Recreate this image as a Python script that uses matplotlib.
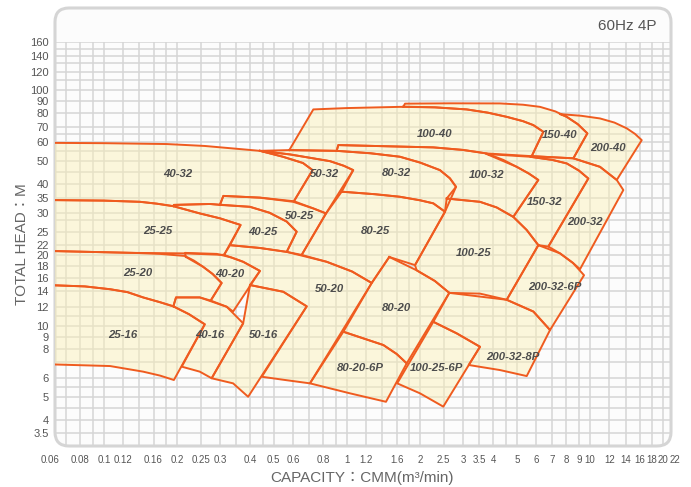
import matplotlib.pyplot as plt
from matplotlib.patches import FancyBboxPatch
from matplotlib.ticker import NullLocator
from matplotlib.transforms import IdentityTransform, ScaledTranslation

# Capacity (m3/min) and head (m) outlines:
# top curve left->right, then bottom curve right->left.
q_25_16 = [0.058, 0.0835, 0.106, 0.125, 0.145, 0.17, 0.193, 0.224, 0.260, 0.194, 0.17, 0.145, 0.106, 0.058]
h_25_16 = [14.9, 14.7, 14.3, 13.9, 13.2, 12.6, 12.1, 11.2, 10.15, 5.89, 6.15, 6.39, 6.75, 6.87]
q_40_16 = [0.193, 0.198, 0.248, 0.320, 0.374, 0.2775, 0.248, 0.209, 0.260, 0.224]
h_40_16 = [12.1, 13.2, 13.2, 12.05, 10.25, 5.99, 6.39, 6.71, 10.15, 11.2]
q_50_16 = [0.399, 0.547, 0.683, 0.392, 0.340, 0.2775, 0.374]
h_50_16 = [14.9, 13.95, 12.1, 5.00, 5.70, 5.99, 10.25]
q_25_20 = [0.058, 0.132, 0.17, 0.215, 0.235, 0.256, 0.28, 0.305, 0.275, 0.248, 0.198, 0.193,
           0.17, 0.145, 0.125, 0.106, 0.0835, 0.058]
h_25_20 = [20.8, 20.4, 20.2, 19.8, 18.9, 17.8, 16.6, 15.2, 12.8, 13.2, 13.2, 12.1,
           12.6, 13.2, 13.9, 14.3, 14.7, 14.9]
q_40_20 = [0.2175, 0.2154, 0.291, 0.335, 0.374, 0.4385, 0.340, 0.320, 0.275, 0.305, 0.28, 0.256]
h_40_20 = [19.6, 20.4, 20.2, 19.5, 18.7, 17.1, 11.5, 12.05, 12.8, 15.2, 16.6, 17.8]
q_50_20 = [0.312, 0.330, 0.4385, 0.565, 0.825, 1.05, 1.264, 0.704, 0.556, 0.446, 0.683, 0.547,
           0.399, 0.4385, 0.374]
h_50_20 = [20.0, 22.0, 21.4, 20.6, 18.7, 17.0, 15.2, 5.70, 5.89, 6.08, 12.1, 13.95,
           14.9, 17.1, 18.7]
q_25_25 = [0.058, 0.1, 0.141, 0.165, 0.193, 0.248, 0.3, 0.365, 0.312, 0.215, 0.132, 0.058]
h_25_25 = [34.2, 34.0, 33.6, 33.0, 32.2, 30.0, 28.6, 26.8, 20.0, 20.3, 20.4, 20.8]
q_40_25 = [0.193, 0.194, 0.273, 0.399, 0.48, 0.565, 0.621, 0.565, 0.4385, 0.330, 0.365, 0.3, 0.248]
h_40_25 = [32.2, 32.6, 32.9, 32.0, 30.2, 27.7, 25.1, 20.6, 21.4, 22.0, 26.8, 28.6, 30.0]
q_50_25 = [0.300, 0.310, 0.4385, 0.601, 0.727, 0.820, 0.651, 0.565, 0.621, 0.565, 0.48, 0.399]
h_50_25 = [32.6, 35.6, 35.0, 33.6, 31.5, 30.0, 20.0, 20.6, 25.1, 27.7, 30.2, 32.0]
q_40_32 = [0.058, 0.1, 0.181, 0.26, 0.340, 0.4385, 0.545, 0.659, 0.722, 0.605, 0.4385, 0.310,
           0.300, 0.273, 0.194, 0.193, 0.165, 0.141, 0.1, 0.058]
h_40_32 = [59.8, 59.6, 59.1, 58.0, 56.6, 55.3, 52.2, 49.1, 45.8, 33.8, 35.0, 35.6,
           32.6, 32.9, 32.6, 32.2, 33.0, 33.6, 34.0, 34.2]
q_50_32 = [0.4385, 0.5825, 0.851, 0.97, 1.061, 0.820, 0.727, 0.605, 0.722, 0.659, 0.545]
h_50_32 = [55.3, 53.4, 50.0, 47.8, 45.8, 30.0, 31.5, 33.8, 45.8, 49.1, 52.2]
q_80_32 = [0.4385, 0.579, 0.907, 1.25, 1.652, 2.0, 2.413, 2.65, 2.81, 2.531, 2.266, 2.0, 1.652,
           1.3, 0.951, 1.061, 0.97, 0.851, 0.5825]
h_80_32 = [55.3, 55.7, 55.3, 54.0, 52.2, 49.3, 45.8, 42.3, 38.9, 30.5, 33.1, 34.1, 35.3,
           36.2, 37.1, 45.8, 47.8, 50.0, 53.4]
q_80_25 = [0.951, 1.3, 1.652, 2.0, 2.266, 2.531, 1.905, 1.493, 1.264, 1.05, 0.825, 0.651, 0.820]
h_80_25 = [37.1, 36.2, 35.3, 34.1, 33.1, 30.5, 18.1, 19.6, 15.2, 17.0, 18.7, 20.0, 30.0]
q_80_20 = [1.493, 1.936, 2.3, 2.636, 1.761, 1.6, 1.411, 0.966, 1.264]
h_80_20 = [19.6, 17.2, 15.5, 13.8, 6.93, 7.6, 8.29, 9.44, 15.2]
q_80_20_6p = [0.966, 1.411, 1.6, 1.761, 1.447, 1.029, 0.704]
h_80_20_6p = [9.44, 8.29, 7.6, 6.93, 4.76, 5.17, 5.70]
q_100_40 = [0.579, 0.727, 1.0, 1.652, 2.3, 3.109, 3.8, 4.541, 5.3, 5.845, 6.426, 5.756, 3.757,
            3.0, 2.266, 0.921, 0.907]
h_100_40 = [55.7, 82.9, 84.0, 85.0, 84.6, 82.9, 80.3, 77.1, 73.9, 71.1, 66.6, 52.5, 53.9,
            55.8, 57.2, 58.5, 55.3]
q_100_32 = [0.907, 0.921, 2.266, 3.0, 3.757, 4.4, 4.993, 5.6, 6.128, 4.834, 4.13, 3.526, 2.572,
            2.81, 2.65, 2.413, 2.0, 1.652, 1.25]
h_100_32 = [55.3, 58.5, 57.2, 55.8, 53.9, 50.6, 47.3, 44.3, 41.6, 29.0, 31.8, 33.6, 34.7,
            38.9, 42.3, 45.8, 49.3, 52.2, 54.0]
q_100_25 = [2.572, 3.526, 4.13, 4.834, 5.49, 6.128, 4.541, 3.526, 2.636, 2.3, 1.936, 1.905, 2.531]
h_100_25 = [34.7, 33.6, 31.8, 29.0, 25.5, 22.0, 12.9, 13.7, 13.8, 15.5, 17.2, 18.1, 30.5]
q_100_25_6p = [2.266, 2.828, 3.526, 2.49, 1.997, 1.609]
h_100_25_6p = [10.4, 9.29, 8.15, 4.54, 5.17, 5.70]
q_150_40 = [1.705, 1.733, 2.654, 4.263, 5.3, 6.228, 7.2, 8.019, 8.9, 9.748, 8.538, 5.756,
            6.426, 5.845, 5.3, 4.541, 3.8, 3.109, 2.3]
h_150_40 = [85.2, 87.7, 88.0, 87.9, 86.8, 85.0, 81.3, 77.1, 71.8, 65.6, 51.4, 52.5,
            66.6, 71.1, 73.9, 77.1, 80.3, 82.9, 84.6]
q_150_32 = [3.757, 5.664, 7.0, 8.019, 9.0, 9.84, 6.737, 6.128, 5.49, 4.834, 6.128, 5.6, 4.993]
h_150_32 = [53.6, 52.2, 50.6, 48.9, 45.6, 42.2, 21.7, 22.0, 25.5, 29.0, 41.6, 44.3, 47.3]
q_200_40 = [7.526, 9.2, 10.99, 12.6, 14.16, 15.3, 16.32, 12.88, 10.99, 8.538, 9.748, 8.9, 8.019]
h_200_40 = [79.2, 77.9, 75.9, 72.9, 68.9, 65.3, 61.4, 41.6, 47.3, 51.4, 65.6, 71.8, 77.1]
q_200_32 = [5.756, 8.538, 10.99, 12.88, 13.71, 9.096, 8.5, 7.526, 6.737, 9.84, 9.0, 8.019, 7.0, 5.664]
h_200_32 = [52.5, 51.4, 47.3, 41.6, 37.7, 17.4, 18.5, 20.3, 21.7, 42.2, 45.6, 48.9, 50.6, 52.2]
q_200_32_6p = [6.128, 7.526, 8.5, 9.447, 6.846, 5.845, 4.541]
h_200_32_6p = [22.0, 20.3, 18.5, 16.4, 9.6, 11.5, 12.9]
q_200_32_8p = [2.636, 4.541, 5.845, 6.846, 5.489, 4.263, 3.168, 3.526, 2.828, 2.266]
h_200_32_8p = [13.8, 12.9, 11.5, 9.6, 6.12, 6.49, 6.82, 8.15, 9.29, 10.4]

models = [
    ("25-16", q_25_16, h_25_16, 0.120, 9.14),
    ("40-16", q_40_16, h_40_16, 0.273, 9.14),
    ("50-16", q_50_16, h_50_16, 0.452, 9.14),
    ("25-20", q_25_20, h_25_20, 0.138, 16.7),
    ("40-20", q_40_20, h_40_20, 0.330, 16.6),
    ("50-20", q_50_20, h_50_20, 0.851, 14.4),
    ("25-25", q_25_25, h_25_25, 0.167, 25.3),
    ("40-25", q_40_25, h_40_25, 0.452, 25.1),
    ("50-25", q_50_25, h_50_25, 0.640, 29.3),
    ("40-32", q_40_32, h_40_32, 0.202, 43.9),
    ("50-32", q_50_32, h_50_32, 0.812, 43.9),
    ("80-32", q_80_32, h_80_32, 1.602, 44.4),
    ("80-25", q_80_25, h_80_25, 1.304, 25.2),
    ("80-20", q_80_20, h_80_20, 1.602, 11.9),
    ("80-20-6P", q_80_20_6p, h_80_20_6p, 1.131, 6.60),
    ("100-40", q_100_40, h_100_40, 2.302, 64.9),
    ("100-32", q_100_32, h_100_32, 3.757, 43.6),
    ("100-25", q_100_25, h_100_25, 3.310, 20.3),
    ("100-25-6P", q_100_25_6p, h_100_25_6p, 2.339, 6.60),
    ("150-40", q_150_40, h_150_40, 7.526, 64.5),
    ("150-32", q_150_32, h_150_32, 6.530, 33.6),
    ("200-40", q_200_40, h_200_40, 11.89, 56.6),
    ("200-32", q_200_32, h_200_32, 9.537, 27.7),
    ("200-32-6P", q_200_32_6p, h_200_32_6p, 7.178, 14.6),
    ("200-32-8P", q_200_32_8p, h_200_32_8p, 4.834, 7.40),
]

x_ticks = [0.06, 0.08, 0.1, 0.12, 0.16, 0.2, 0.25, 0.3, 0.4, 0.5, 0.6, 0.8, 1, 1.2, 1.6,
           2, 2.5, 3, 3.5, 4, 5, 6, 7, 8, 9, 10, 12, 14, 16, 18, 20, 22]
x_tick_labels = ["0.06", "0.08", "0.1", "0.12", "0.16", "0.2", "0.25", "0.3", "0.4", "0.5",
                 "0.6", "0.8", "1", "1.2", "1.6", "2", "2.5", "3", "3.5", "4", "5", "6",
                 "7", "8", "9", "10", "12", "14", "16", "18", "20", "22"]
y_ticks = [3.5, 4, 5, 6, 8, 9, 10, 12, 14, 16, 18, 20, 22, 25, 30, 35, 40, 50, 60, 70,
           80, 90, 100, 120, 140, 160]
y_tick_labels = [str(v) for v in y_ticks]

grid_x = [0.07, 0.08, 0.09, 0.1, 0.12, 0.14, 0.16, 0.18, 0.2, 0.25, 0.3, 0.35, 0.4, 0.45,
          0.5, 0.6, 0.7, 0.8, 0.9, 1, 1.2, 1.4, 1.6, 1.8, 2, 2.5, 3, 3.5, 4, 4.5, 5, 6, 7,
          8, 9, 10, 12, 14, 16, 18, 20]
grid_y = [3.5, 4, 4.5, 5, 5.5, 6, 7, 8, 9, 10, 11, 12, 14, 16, 18, 20, 22, 25, 28, 30, 35,
          40, 45, 50, 55, 60, 65, 70, 80, 90, 100, 110, 120, 130, 140, 150, 160]

EDGE = "#ef5b1f"
FILL = "#fbf0b4"
TXT = "#555555"
plt.rcParams["font.family"] = ["Liberation Sans", "Noto Sans CJK JP", "DejaVu Sans"]

fig = plt.figure(figsize=(6.91, 4.87), dpi=100)

# rounded panel behind the plot (pixel coords)
frame = FancyBboxPatch((55, 41), 616, 438, boxstyle="round,pad=0,rounding_size=14",
                       transform=IdentityTransform(), facecolor="#fcfcfc",
                       edgecolor="#d5d5d5", linewidth=2.2, zorder=-1)
fig.add_artist(frame)

ax = fig.add_axes([50 / 691, 41 / 487, 623.5 / 691, 404.5 / 487])
ax.set_facecolor("none")
ax.set_xscale("log")
ax.set_yscale("log")
ax.set_xlim(0.06, 22.05)
ax.set_ylim(3.09, 161)
for s in ax.spines.values():
    s.set_visible(False)

for q in grid_x:
    ln = ax.axvline(q, color="#d6d6d6", lw=1.1, zorder=0)
    ln.set_clip_path(frame)
for h in grid_y:
    ln = ax.axhline(h, color="#d6d6d6", lw=1.1, zorder=0)
    ln.set_clip_path(frame)

for name, q, h, lq, lh in models:
    patch = ax.fill(q, h, facecolor=FILL, alpha=0.45, edgecolor="none", zorder=1)[0]
    patch.set_clip_path(frame)
for name, q, h, lq, lh in models:
    ln, = ax.plot(q + [q[0]], h + [h[0]], color=EDGE, lw=1.4, zorder=2,
                  solid_joinstyle="round")
    ln.set_clip_path(frame)
    ax.text(lq, lh, name, ha="center", va="center", fontsize=8.2, fontweight="bold",
            fontstyle="italic", color="#4d4d4d", zorder=3)

ax.set_xticks(x_ticks)
ax.set_xticklabels(x_tick_labels)
ax.set_yticks(y_ticks)
ax.set_yticklabels(y_tick_labels)
ax.xaxis.set_minor_locator(NullLocator())
ax.yaxis.set_minor_locator(NullLocator())
ax.tick_params(axis="x", length=0, pad=6.5, labelsize=7.0, labelcolor=TXT)
ax.tick_params(axis="y", length=0, pad=0.8, labelsize=8, labelcolor=TXT)
# the last label sits against the frame edge, nudge it right a touch
last = ax.get_xticklabels()[-1]
last.set_transform(last.get_transform() + ScaledTranslation(1.5 / 72, 0, fig.dpi_scale_trans))

ax.set_xlabel("CAPACITY：CMM(m³/min)", fontsize=11, color="#666666")
ax.xaxis.set_label_coords(0.5, -0.079)
ax.xaxis.label.set_va("center")
ax.set_ylabel("TOTAL HEAD：M", fontsize=11, color="#666666")
ax.yaxis.set_label_coords(-0.045, 0.5)
ax.yaxis.label.set_va("center")

fig.text(657 / 691, 1 - 26 / 487, "60Hz 4P", ha="right", va="center", fontsize=11,
         color=TXT)

fig.savefig("out.png", dpi=100)
